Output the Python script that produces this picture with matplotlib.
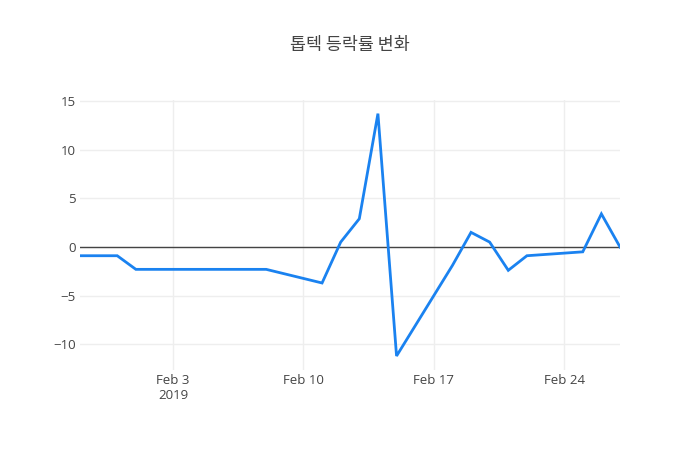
import numpy as np
import pandas as pd
import matplotlib
matplotlib.use('Agg')
import matplotlib.pyplot as plt
import matplotlib.dates as mdates

# trading days (Seollal holiday Feb 4-6 skipped)
dates = ['2019-01-29', '2019-01-30', '2019-01-31', '2019-02-01', '2019-02-07', '2019-02-08',
         '2019-02-11', '2019-02-12', '2019-02-13', '2019-02-14', '2019-02-15', '2019-02-18',
         '2019-02-19', '2019-02-20', '2019-02-21', '2019-02-22', '2019-02-25', '2019-02-26',
         '2019-02-27']
change = [-0.9, -0.9, -0.9, -2.3, -2.3, -2.3,
          -3.7, 0.5, 2.9, 13.7, -11.2, -1.9,
          1.5, 0.5, -2.4, -0.9, -0.5, 3.4,
          0.0]
tick_dates = ['2019-02-03', '2019-02-10', '2019-02-17', '2019-02-24']
tick_labels = ['Feb 3\n2019', 'Feb 10', 'Feb 17', 'Feb 24']
y_ticks = [-10, -5, 0, 5, 10, 15]

x = pd.to_datetime(dates)

plt.rcParams['font.family'] = ['Open Sans', 'Noto Sans CJK KR', 'DejaVu Sans']

fig = plt.figure(figsize=(7, 4.5), dpi=100)
ax = fig.add_axes([80/700, 80/450, 540/700, 270/450])

ax.plot(x, change, color='#1a82f0', lw=2, zorder=3, solid_joinstyle='miter')
ax.axhline(0, color='#444444', lw=1, zorder=2)

ax.set_xlim(x[0], x[-1])
ax.set_ylim(-12.64, 15.1)

ax.set_xticks(pd.to_datetime(tick_dates))
ax.set_xticklabels(tick_labels)
ax.set_yticks(y_ticks)
ax.set_yticklabels([str(v).replace('-', '\u2212') for v in y_ticks])

ax.grid(True, color='#eeeeee', lw=1, zorder=0)
for s in ax.spines.values():
    s.set_visible(False)
ax.tick_params(length=0, labelsize=9.5, colors='#444444')
ax.tick_params(axis='x', pad=3)
ax.tick_params(axis='y', pad=3)

fig.suptitle('톱텍 등락률 변화', y=1 - 45/450, va='center', fontsize=12.5,
             color='#444444', family=['Noto Sans CJK KR', 'DejaVu Sans'])

fig.savefig('out.png', dpi=100, facecolor='white')
